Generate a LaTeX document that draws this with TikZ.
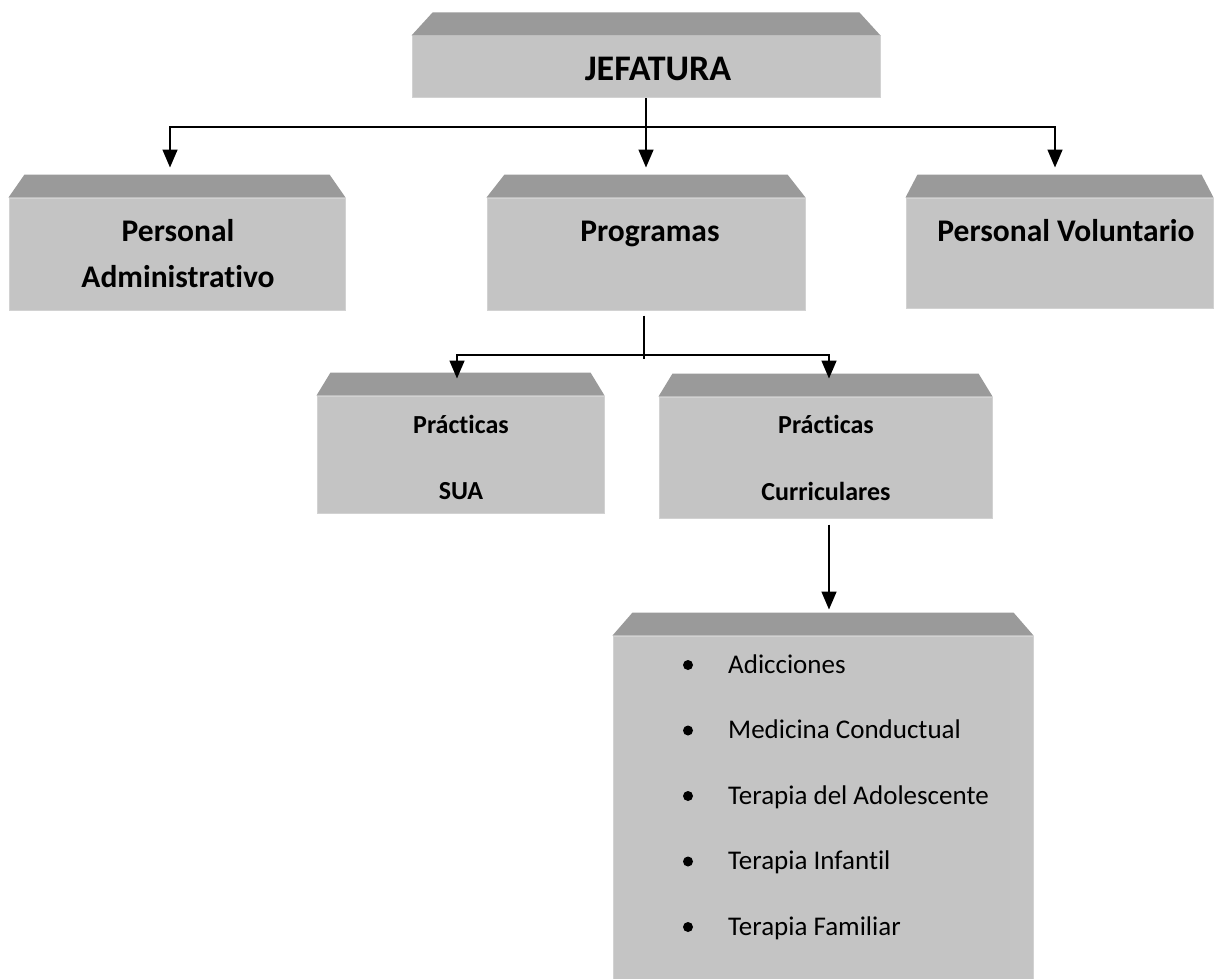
\documentclass[tikz,border=0pt]{standalone}
\usepackage{fontspec}
\setmainfont[Ligatures=NoCommon]{Carlito}
\usepackage{tikz}
\usetikzlibrary{positioning, arrows.meta}

\definecolor{boxfront}{RGB}{196,196,196}
\definecolor{boxtop}{RGB}{154,154,154}
\definecolor{boxedge}{RGB}{210,210,210}

\tikzset{
    orgbox/.style={fill=boxfront, draw=boxedge, line width=1pt, inner sep=0pt},
    conn/.style={line width=1.6pt},
    arr/.style={conn, -{Triangle[width=15pt,length=18pt]}},
    head/.style={font=\bfseries\fontsize{31.5}{38}\selectfont, anchor=base, inner sep=0pt},
    subhead/.style={font=\bfseries\fontsize{26}{32}\selectfont, anchor=base, inner sep=0pt},
    item/.style={font=\fontsize{27}{33}\selectfont, anchor=base west, inner sep=0pt}
}

\begin{document}
\begin{tikzpicture}[x=1pt, y=-1pt]
    \useasboundingbox (0,0) rectangle (1215,979);

    % Front faces
    \node[orgbox, minimum width=468pt, minimum height=62pt] (jef) at (646,67) {};
    \node[orgbox, minimum width=336pt, minimum height=112pt] (adm) at (177,254) {};
    \node[orgbox, minimum width=318pt, minimum height=112pt] (prog) at (646,254) {};
    \node[orgbox, minimum width=307pt, minimum height=110pt] (vol) at (1059.5,253) {};
    \node[orgbox, minimum width=287pt, minimum height=117pt] (sua) at (460.5,454.5) {};
    \node[orgbox, minimum width=333pt, minimum height=121pt] (cur) at (825.5,457.5) {};
    \node[orgbox, minimum width=420pt, minimum height=352pt] (lst) at (823,812) {};

    % Bevelled tops
    \foreach \b/\d in {jef/21, adm/16, prog/18, vol/12, sua/14, cur/14, lst/20}
        \fill[boxtop] (\b.north west) -- ++(\d,-23) -- ([shift={(-\d,-23)}]\b.north east)
            -- (\b.north east) -- cycle;

    % Labels
    \node[head, font=\bfseries\fontsize{36}{42}\selectfont] (t-jef) at (658,81) {JEFATURA};
    \node[head] (t-adm1) at (178,241) {Personal};
    \node[head] (t-adm2) at (178,287) {Administrativo};
    \node[head] (t-prog) at (650,241) {Programas};
    \node[head] (t-vol) at (1066,241) {Personal Voluntario};
    \node[subhead] (t-sua1) at (461,433) {Prácticas};
    \node[subhead] (t-sua2) at (461,499) {SUA};
    \node[subhead] (t-cur1) at (826,433) {Prácticas};
    \node[subhead] (t-cur2) at (826,500) {Curriculares};

    % List of areas
    \foreach \txt [count=\i] in {Adicciones, Medicina Conductual, Terapia del Adolescente,
            Terapia Infantil, Terapia Familiar} {
        \fill (688,{665+65.5*(\i-1)}) circle (5pt);
        \node[item] (t-item\i) at (728,{673+65.5*(\i-1)}) {\txt};
    }

    % Connectors
    \coordinate (bus) at (646,127);
    \draw[conn] (jef.south) -- (bus);
    \draw[arr] (bus) -| ([xshift=-7pt, yshift=30pt]adm.north);
    \draw[arr] (bus) -- ([yshift=30pt]prog.north);
    \draw[arr] (bus) -| ([xshift=-4.5pt, yshift=30pt]vol.north);

    \coordinate (split) at (644,355);
    \draw[conn] ([xshift=-2pt, yshift=-5pt]prog.south) -- ([yshift=-4pt]split);
    \draw[arr] (split) -| ([xshift=-3.5pt, yshift=17pt]sua.north);
    \draw[arr] (split) -| ([xshift=3.5pt, yshift=18pt]cur.north);

    \draw[arr] ([xshift=3.5pt, yshift=-6pt]cur.south) -- ([xshift=3.5pt, yshift=26pt]lst.north -| cur.south);
\end{tikzpicture}
\end{document}
